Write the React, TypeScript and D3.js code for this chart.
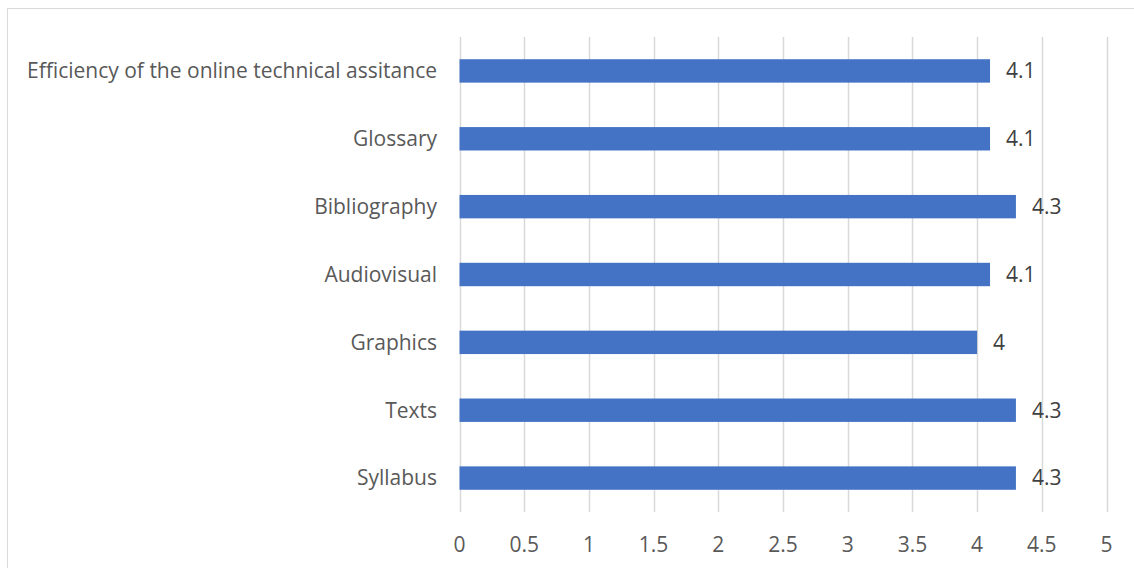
import React, { useEffect, useRef } from "react";
import * as d3 from "d3";

const categories = [
  "Efficiency of the online technical assitance",
  "Glossary",
  "Bibliography",
  "Audiovisual",
  "Graphics",
  "Texts",
  "Syllabus",
];
const values = [4.1, 4.1, 4.3, 4.1, 4, 4.3, 4.3];
const xTicks = [0, 0.5, 1, 1.5, 2, 2.5, 3, 3.5, 4, 4.5, 5];

const W = 1134;
const H = 568;
const FONT = "'Open Sans', 'Noto Sans', sans-serif";
const FS = 21;
const TEXT = "#595959";
const GRID = "#d9d9d9";
const BAR = "#4472C4";

export default function App() {
  const ref = useRef<SVGSVGElement>(null);

  useEffect(() => {
    const svg = d3.select(ref.current);
    svg.selectAll("*").remove();

    const x = d3.scaleLinear().domain([0, 5]).range([459.5, 1106.5]);
    const y = d3
      .scaleBand<string>()
      .domain(categories)
      .range([37, 512])
      .paddingInner(0.655)
      .paddingOuter(0.3275);

    // chart frame
    svg
      .append("rect")
      .attr("x", 7.5)
      .attr("y", 8.5)
      .attr("width", W)
      .attr("height", H)
      .attr("fill", "#fff")
      .attr("stroke", GRID)
      .attr("stroke-width", 1);

    // vertical gridlines
    svg
      .append("g")
      .selectAll("line")
      .data(xTicks)
      .join("line")
      .attr("x1", (d) => Math.round(x(d)) + 0.5)
      .attr("x2", (d) => Math.round(x(d)) + 0.5)
      .attr("y1", 37)
      .attr("y2", 512)
      .attr("stroke", GRID)
      .attr("stroke-width", 1.5);

    // bars
    svg
      .append("g")
      .selectAll("rect")
      .data(values)
      .join("rect")
      .attr("x", x(0))
      .attr("y", (_, i) => y(categories[i])!)
      .attr("width", (d) => x(d) - x(0))
      .attr("height", y.bandwidth())
      .attr("fill", BAR);

    // value labels
    svg
      .append("g")
      .selectAll("text")
      .data(values)
      .join("text")
      .attr("x", (d) => x(d) + 16)
      .attr("y", (_, i) => y(categories[i])! + y.bandwidth() / 2)
      .attr("dy", "0.35em")
      .attr("fill", "#404040")
      .attr("font-family", FONT)
      .attr("font-size", FS)
      .text((d) => String(d));

    // category labels
    svg
      .append("g")
      .selectAll("text")
      .data(categories)
      .join("text")
      .attr("x", 437)
      .attr("y", (d) => y(d)! + y.bandwidth() / 2)
      .attr("dy", "0.35em")
      .attr("text-anchor", "end")
      .attr("fill", TEXT)
      .attr("font-family", FONT)
      .attr("font-size", FS)
      .text((d) => d);

    // x tick labels
    svg
      .append("g")
      .selectAll("text")
      .data(xTicks)
      .join("text")
      .attr("x", (d) => x(d))
      .attr("y", 545)
      .attr("dy", "0.35em")
      .attr("text-anchor", "middle")
      .attr("fill", TEXT)
      .attr("font-family", FONT)
      .attr("font-size", FS)
      .text((d) => String(d));
  }, []);

  return (
    <svg
      ref={ref}
      width={W}
      height={H}
      style={{ position: "fixed", left: 0, top: 0, background: "#fff" }}
    />
  );
}
